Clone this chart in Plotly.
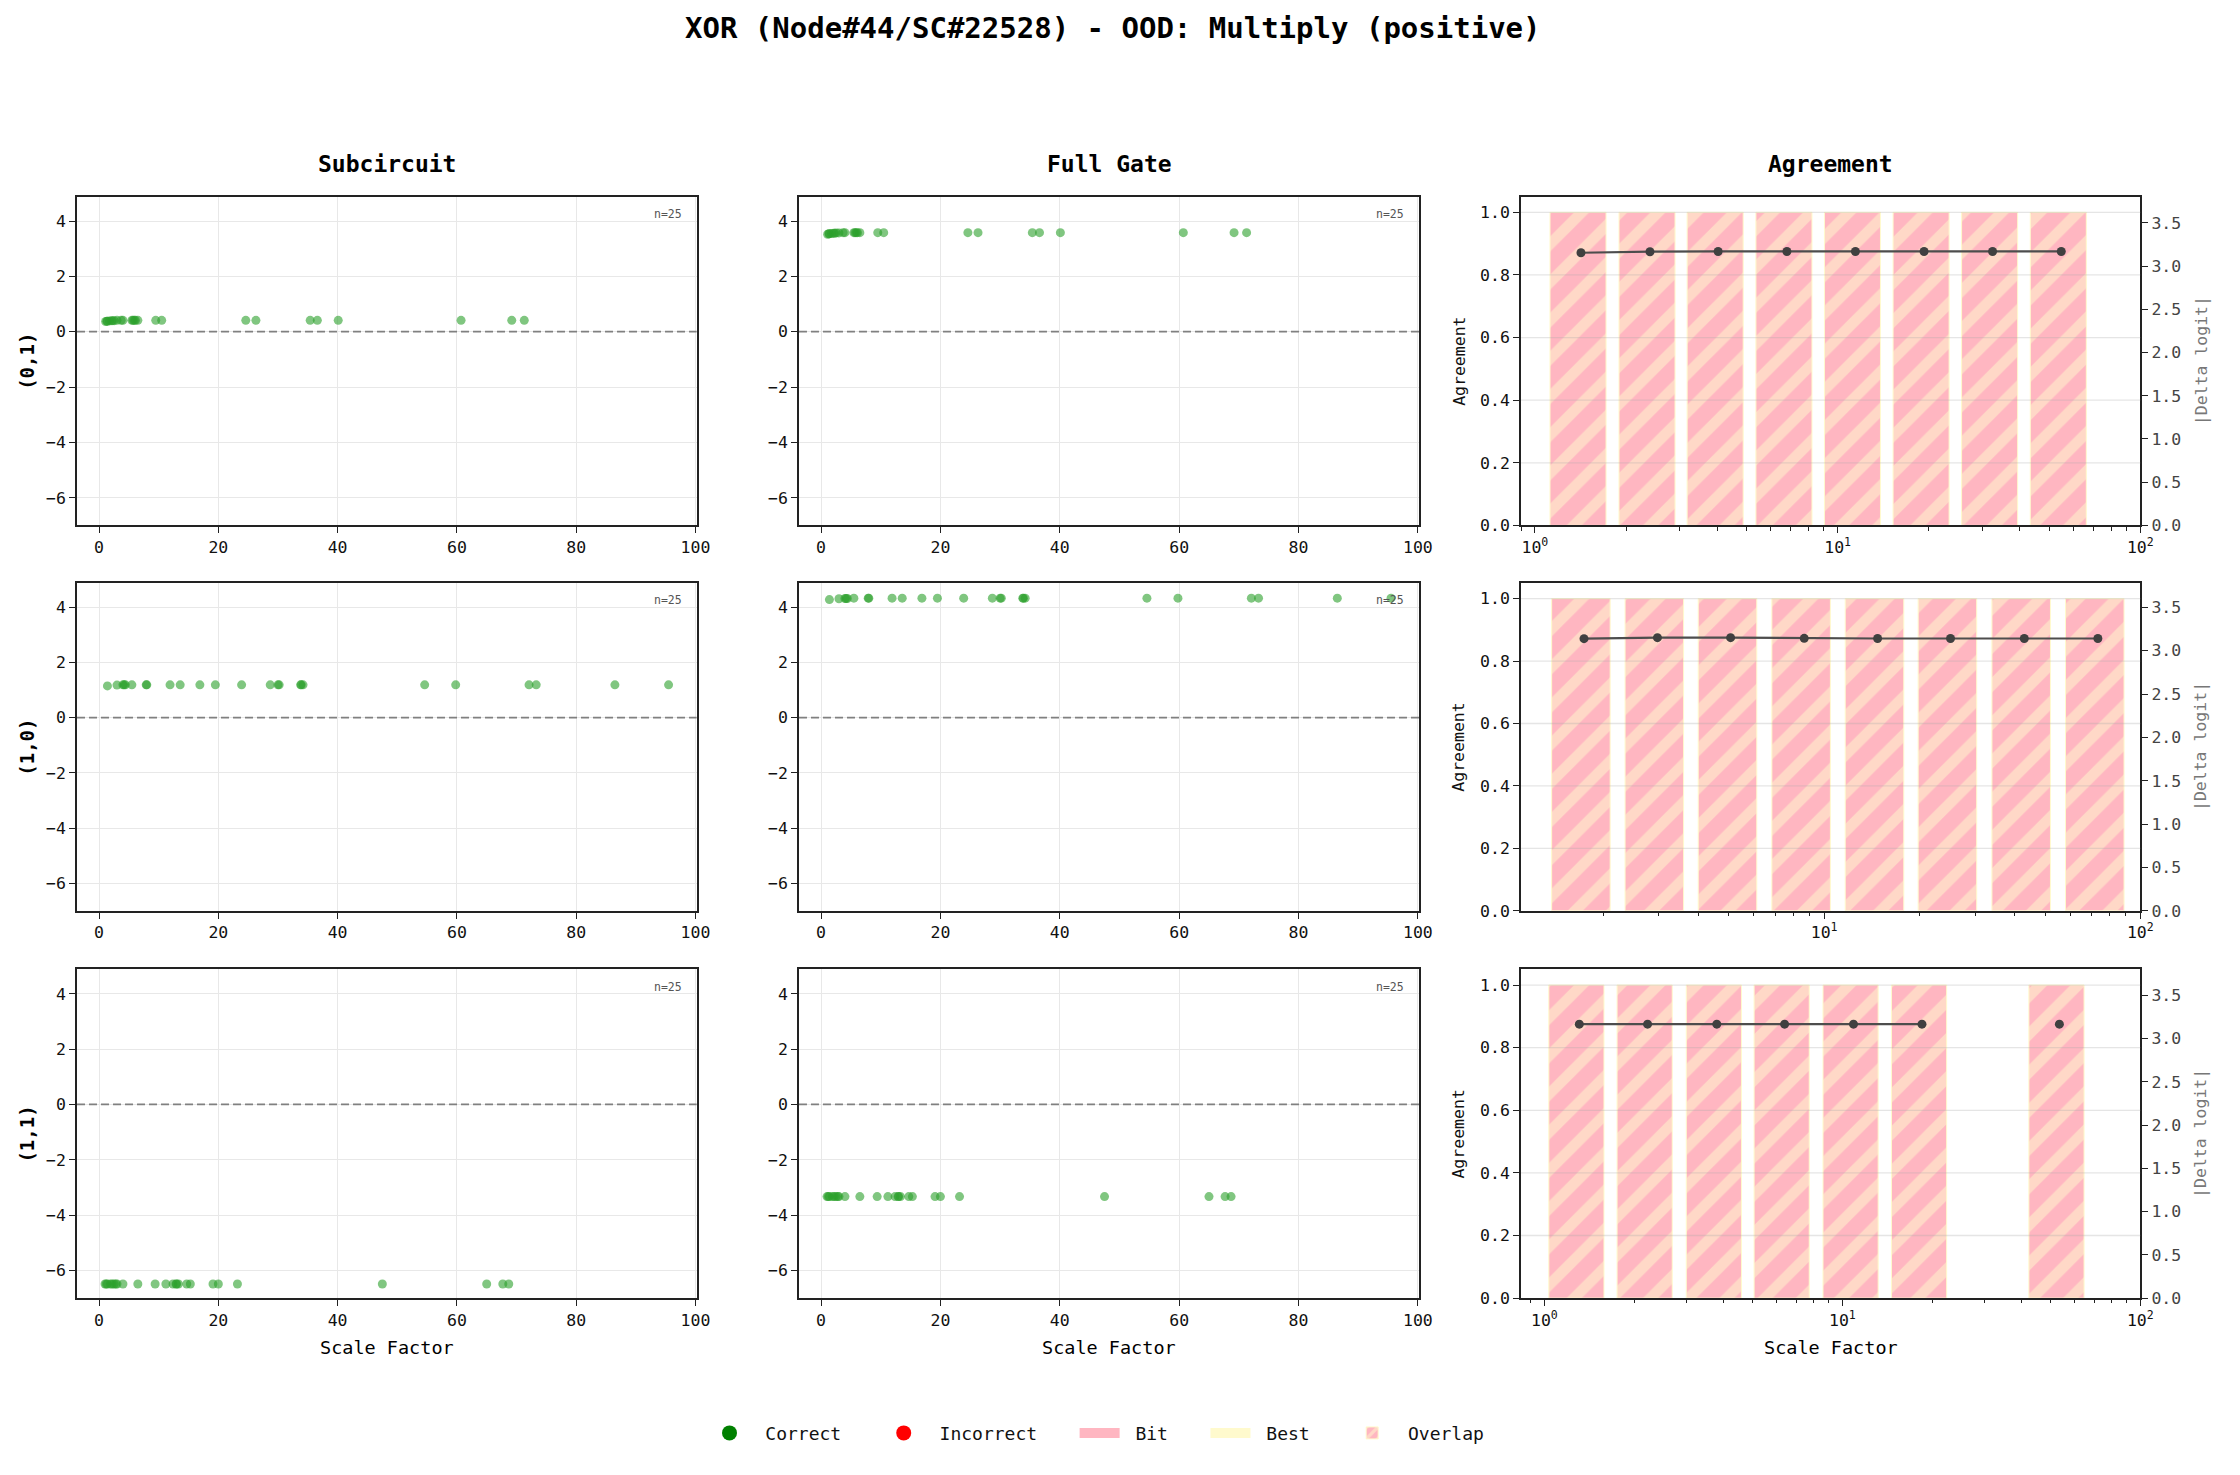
import math
import plotly.graph_objects as go

FONT = "DejaVu Sans Mono"

title = "XOR (Node#44/SC#22528) - OOD: Multiply (positive)"
col_titles = ["Subcircuit", "Full Gate", "Agreement"]
row_labels = ["(0,1)", "(1,0)", "(1,1)"]

# per-sample scale factors and logits, input (0,1)
scale_01 = [1.1, 1.3, 1.4, 1.75, 2.1, 2.3, 2.55, 3.0, 3.7, 4.0, 5.5, 5.7, 5.9,
            6.1, 6.5, 9.5, 10.5, 24.6, 26.3, 35.4, 36.6, 40.1, 60.7, 69.2, 71.3]
sub_01 = [0.37, 0.38, 0.38, 0.39, 0.40, 0.40, 0.40, 0.41, 0.41, 0.41, 0.41, 0.41, 0.41,
          0.41, 0.41, 0.41, 0.41, 0.41, 0.41, 0.41, 0.41, 0.41, 0.41, 0.41, 0.41]
full_01 = [3.52, 3.54, 3.54, 3.55, 3.56, 3.56, 3.57, 3.57, 3.58, 3.58, 3.58, 3.58, 3.58,
           3.58, 3.58, 3.58, 3.58, 3.58, 3.58, 3.58, 3.58, 3.58, 3.58, 3.58, 3.58]

# input (1,0)
scale_10 = [1.4, 3.0, 4.0, 4.2, 4.4, 5.5, 7.9, 8.0, 11.9, 13.6, 16.9, 19.5, 23.9,
            28.7, 30.0, 30.2, 33.8, 33.9, 34.2, 54.6, 59.8, 72.1, 73.3, 86.5, 95.5]
sub_10 = [1.15, 1.18, 1.19, 1.19, 1.19, 1.19, 1.19, 1.19, 1.19, 1.19, 1.19, 1.19, 1.19,
          1.19, 1.19, 1.19, 1.19, 1.19, 1.19, 1.19, 1.19, 1.19, 1.19, 1.19, 1.19]
full_10 = [4.28, 4.31, 4.32, 4.32, 4.32, 4.33, 4.33, 4.33, 4.33, 4.33, 4.33, 4.33, 4.33,
           4.33, 4.33, 4.33, 4.33, 4.33, 4.33, 4.33, 4.33, 4.33, 4.33, 4.33, 4.33]

# input (1,1)
scale_11 = [1.0, 1.2, 1.4, 1.9, 2.2, 2.5, 2.8, 3.0, 4.0, 6.5, 9.4, 11.2, 12.4,
            12.9, 13.0, 13.3, 14.7, 15.3, 19.1, 20.0, 23.2, 47.5, 65.0, 67.7, 68.7]
sub_11 = [-6.49, -6.49, -6.49, -6.49, -6.49, -6.49, -6.49, -6.49, -6.49, -6.49, -6.49, -6.49, -6.49,
          -6.49, -6.49, -6.49, -6.49, -6.49, -6.49, -6.49, -6.49, -6.49, -6.49, -6.49, -6.49]
full_11 = [-3.33, -3.33, -3.33, -3.33, -3.33, -3.33, -3.33, -3.33, -3.33, -3.33, -3.33, -3.33, -3.33,
           -3.33, -3.33, -3.33, -3.33, -3.33, -3.33, -3.33, -3.33, -3.33, -3.33, -3.33, -3.33]

# agreement per geometric bin of the scale factor
bin_x_01 = [1.42, 2.40, 4.03, 6.80, 11.45, 19.3, 32.5, 54.8]
agree_01 = [1.0, 1.0, 1.0, 1.0, 1.0, 1.0, 1.0, 1.0]
delta_01 = [3.155, 3.167, 3.170, 3.170, 3.170, 3.170, 3.170, 3.170]

bin_x_10 = [1.74, 2.97, 5.06, 8.65, 14.76, 25.1, 42.95, 73.4]
agree_10 = [1.0, 1.0, 1.0, 1.0, 1.0, 1.0, 1.0, 1.0]
delta_10 = [3.138, 3.150, 3.150, 3.142, 3.140, 3.140, 3.140, 3.140]

bin_x_11 = [1.31, 2.22, 3.79, 6.40, 10.9, 18.5, 31.5, 53.5]
agree_11 = [1.0, 1.0, 1.0, 1.0, 1.0, 1.0, None, 1.0]
delta_11 = [3.165, 3.165, 3.165, 3.165, 3.165, 3.165, None, 3.165]

agree_ticks = [0.0, 0.2, 0.4, 0.6, 0.8, 1.0]

rows = [
    (scale_01, sub_01, full_01, bin_x_01, agree_01, delta_01),
    (scale_10, sub_10, full_10, bin_x_10, agree_10, delta_10),
    (scale_11, sub_11, full_11, bin_x_11, agree_11, delta_11),
]
log_left = [0.9, 1.10, 0.835]   # left limit of the log axes

W, H = 2240, 1475
col_dom = [[77.5 / W, 701 / W], [804 / W, 1428 / W], [1530.6 / W, 2153.8 / W]]
row_dom = [[1 - 529 / H, 1 - 198 / H], [1 - 917 / H, 1 - 587 / H], [1 - 1307 / H, 1 - 976 / H]]

PINK = "#FFB6C1"
YELLOW = "#FFFACD"
GREEN = "#2ca02c"
GRID = "#e8e8e8"
SPINE = "#222222"
NB = "\u00a0"


def entry(name):
    # non-breaking spaces open up the gaps between swatch, text and next item
    return NB + name + NB * 3


fig = go.Figure()

# legend-only entries (thick line segments give the wide colour swatches)
fig.add_trace(go.Scatter(x=[None], y=[None], mode="markers", name=entry("Correct"),
                         marker=dict(color="green", size=15), legendrank=1))
fig.add_trace(go.Scatter(x=[None], y=[None], mode="markers", name=entry("Incorrect"),
                         marker=dict(color="red", size=15), legendrank=2))
fig.add_trace(go.Scatter(x=[None], y=[None], mode="lines", name=entry("Bit"),
                         line=dict(color=PINK, width=14), legendrank=3))
fig.add_trace(go.Scatter(x=[None], y=[None], mode="lines", name=entry("Best"),
                         line=dict(color=YELLOW, width=14), legendrank=4))

layout_axes = {}
shapes = []
annotations = []


def label(text, x, y, size, color="#111", angle=0, **kw):
    d = dict(text=text, xref="paper", yref="paper", x=x, y=y, xanchor="center",
             yanchor="middle", textangle=angle, showarrow=False,
             font=dict(family=FONT, size=size, color=color))
    d.update(kw)
    return d


tick_common = dict(ticks="outside", ticklen=6, tickwidth=1.3, tickcolor=SPINE,
                   showline=True, linecolor=SPINE, linewidth=1.6,
                   tickfont=dict(family=FONT, size=16.5, color="#111"), zeroline=False)

for r, (scale, sub, full, bx, agree, delta) in enumerate(rows):
    for c in range(3):
        n = r * 3 + c + 1
        xa = "xaxis" if n == 1 else f"xaxis{n}"
        ya = "yaxis" if n == 1 else f"yaxis{n}"
        xr = "x" if n == 1 else f"x{n}"
        yr = "y" if n == 1 else f"y{n}"
        if c < 2:
            yvals = sub if c == 0 else full
            fig.add_trace(go.Scatter(
                x=scale, y=yvals, mode="markers", xaxis=xr, yaxis=yr, showlegend=False,
                marker=dict(color=GREEN, size=9, opacity=0.6, line=dict(width=0)),
            ))
            layout_axes[xa] = dict(domain=col_dom[c], anchor=yr, range=[-3.7, 100.2],
                                   tick0=0, dtick=20, showgrid=True, gridcolor=GRID,
                                   gridwidth=1.3, mirror=True, **tick_common)
            layout_axes[ya] = dict(domain=row_dom[r], anchor=xr, range=[-7, 4.88],
                                   tick0=0, dtick=2, showgrid=True, gridcolor=GRID,
                                   gridwidth=1.3, mirror=True, **tick_common)
            shapes.append(dict(type="line", xref=f"{xr} domain", yref=yr, x0=0, x1=1, y0=0, y1=0,
                               line=dict(color="#808080", width=1.8, dash="8px,4px")))
            annotations.append(dict(text=f"n={len(scale)}", xref=f"{xr} domain", yref=f"{yr} domain",
                                    x=0.979, y=0.975, xanchor="right", yanchor="top", showarrow=False,
                                    font=dict(family=FONT, size=11.5, color="#555")))
        else:
            y2 = f"y{10 + r}"
            fig.add_trace(go.Bar(
                x=bx, y=agree, width=[0.42 * v for v in bx], xaxis=xr, yaxis=yr,
                name=entry("Overlap"), showlegend=(r == 0), legendrank=5,
                marker=dict(color=PINK, line=dict(color=YELLOW, width=1),
                            pattern=dict(shape="/", fgcolor=YELLOW, fillmode="overlay",
                                         size=27, solidity=0.4)),
            ))
            fig.add_trace(go.Scatter(
                x=bx, y=delta, mode="lines+markers", xaxis=xr, yaxis=y2, showlegend=False,
                connectgaps=False, line=dict(color="#4d4d4d", width=2.2),
                marker=dict(color="#404040", size=9),
            ))
            minor_vals = [m * 10 ** e for e in range(-1, 2) for m in range(2, 10)]
            layout_axes[xa] = dict(domain=col_dom[c], anchor=yr, type="log",
                                   range=[math.log10(log_left[r]), 2],
                                   tickvals=[1, 10, 100],
                                   ticktext=["10<sup>0</sup>", "10<sup>1</sup>", "10<sup>2</sup>"],
                                   showgrid=False, mirror=True,
                                   minor=dict(tickvals=minor_vals, ticks="outside", ticklen=3.5,
                                              tickwidth=1, tickcolor=SPINE, showgrid=False),
                                   **tick_common)
            layout_axes[ya] = dict(domain=row_dom[r], anchor=xr, range=[0, 1.05],
                                   tickvals=agree_ticks, tickformat=".1f", showgrid=False,
                                   **tick_common)
            # matplotlib draws this grid over the bars
            for gy in agree_ticks[1:]:
                shapes.append(dict(type="line", layer="above", xref=f"{xr} domain", yref=yr,
                                   x0=0, x1=1, y0=gy, y1=gy,
                                   line=dict(color="rgba(170,170,170,0.3)", width=1.3)))
            top = 1.2 * max(v for v in delta if v is not None)
            rt = dict(tick_common)
            rt["tickfont"] = dict(family=FONT, size=16.5, color="#444")
            layout_axes[f"yaxis{10 + r}"] = dict(overlaying=yr, anchor=xr, side="right",
                                                 range=[0, top], tick0=0, dtick=0.5,
                                                 tickformat=".1f", showgrid=False, **rt)
            ymid = sum(row_dom[r]) / 2
            annotations.append(label("Agreement", 1468 / W, ymid, 16.5, angle=-90))
            annotations.append(label("|Delta logit|", 2215 / W, ymid, 16.5, color="#777", angle=-90))

# row labels, column titles, x labels
for r, lab in enumerate(row_labels):
    annotations.append(label(f"<b>{lab}</b>", 27 / W, sum(row_dom[r]) / 2, 19, color="#000", angle=-90))
for c, t in enumerate(col_titles):
    cx = sum(col_dom[c]) / 2
    annotations.append(label(f"<b>{t}</b>", cx, 1 - 165 / H, 23, color="#000"))
    annotations.append(label("Scale Factor", cx, 1 - 1357 / H, 18.5, color="#000"))
annotations.append(label(f"<b>{title}</b>", 0.5, 1 - 28 / H, 29, color="#000"))

fig.update_layout(
    width=W, height=H, autosize=False,
    margin=dict(l=0, r=0, t=0, b=0),
    paper_bgcolor="white", plot_bgcolor="white",
    font=dict(family=FONT, color="#111"),
    shapes=shapes, annotations=annotations,
    legend=dict(orientation="h", x=0.5, xanchor="center", y=1 - 1443 / H, yanchor="middle",
                font=dict(family=FONT, size=18, color="#111"), itemwidth=40,
                bgcolor="rgba(0,0,0,0)"),
    **layout_axes,
)

# keep the page exactly the figure's size: no body margin, no scrollbars
page_css = ("document.documentElement.style.margin='0';"
            "document.documentElement.style.overflow='hidden';"
            "document.body.style.margin='0';"
            "document.body.style.overflow='hidden';")
fig.write_html("out.html", post_script=page_css, config={"displayModeBar": False})
